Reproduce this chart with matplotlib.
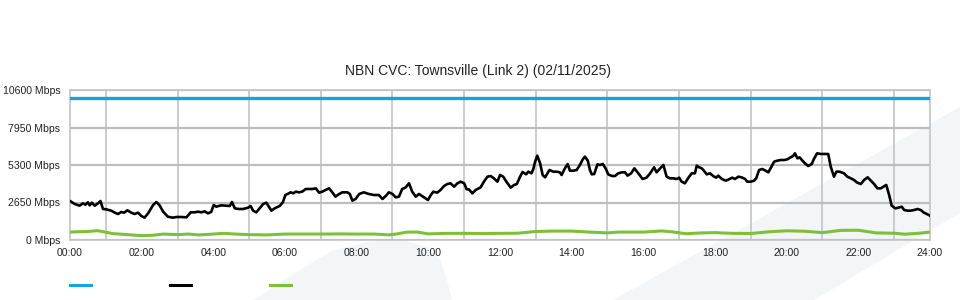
# coding:utf-8
# NBN CVC Townsville link 2 traffic chart

import matplotlib
matplotlib.use("Agg")
import matplotlib.pyplot as plt
from matplotlib.patches import Polygon
from matplotlib.lines import Line2D

plt.rcParams["font.family"] = ["Liberation Sans", "DejaVu Sans"]

title = "NBN CVC: Townsville (Link 2) (02/11/2025)"

# capacity (Mbps)
capacity = 10000

# traffic, time in hours
traffic_hours = [0.0, 0.13, 0.27, 0.36, 0.43, 0.50, 0.55, 0.61, 0.69, 0.78, 0.85, 0.92,
                 1.01, 1.15, 1.25, 1.34, 1.43, 1.51, 1.60, 1.71, 1.80, 1.90, 1.99, 2.08,
                 2.18, 2.32, 2.41, 2.50, 2.60, 2.73, 2.87, 2.97, 3.11, 3.25, 3.37, 3.48,
                 3.57, 3.67, 3.76, 3.85, 3.94, 4.01, 4.08, 4.22, 4.36, 4.46, 4.52, 4.60,
                 4.71, 4.83, 4.97, 5.04, 5.11, 5.20, 5.29, 5.39, 5.48, 5.62, 5.71, 5.85,
                 5.94, 6.01, 6.07, 6.16, 6.23, 6.30, 6.39, 6.48, 6.58, 6.67, 6.76, 6.86,
                 6.95, 7.04, 7.13, 7.23, 7.32, 7.41, 7.51, 7.60, 7.74, 7.81, 7.88, 7.97,
                 8.07, 8.20, 8.34, 8.48, 8.62, 8.72, 8.81, 8.90, 9.00, 9.09, 9.18, 9.27,
                 9.37, 9.46, 9.55, 9.65, 9.74, 9.88, 9.99, 10.07, 10.14, 10.25, 10.34, 10.44,
                 10.53, 10.62, 10.72, 10.81, 10.90, 11.00, 11.07, 11.13, 11.23, 11.32, 11.46, 11.55,
                 11.65, 11.74, 11.83, 11.93, 12.00, 12.09, 12.19, 12.30, 12.39, 12.47, 12.56, 12.63,
                 12.73, 12.79, 12.88, 12.93, 12.98, 13.04, 13.12, 13.19, 13.26, 13.38, 13.49, 13.58,
                 13.67, 13.72, 13.81, 13.89, 13.95, 14.05, 14.14, 14.23, 14.31, 14.37, 14.45, 14.51,
                 14.56, 14.63, 14.72, 14.79, 14.87, 14.96, 15.02, 15.12, 15.21, 15.30, 15.40, 15.49,
                 15.56, 15.66, 15.75, 15.86, 15.98, 16.09, 16.19, 16.30, 16.37, 16.47, 16.56, 16.65,
                 16.74, 16.84, 16.93, 17.00, 17.07, 17.16, 17.26, 17.35, 17.44, 17.49, 17.56, 17.63,
                 17.69, 17.77, 17.86, 17.95, 18.03, 18.09, 18.19, 18.30, 18.39, 18.48, 18.56, 18.65,
                 18.74, 18.84, 18.90, 19.00, 19.09, 19.15, 19.23, 19.32, 19.41, 19.49, 19.55, 19.65,
                 19.74, 19.83, 19.93, 20.02, 20.11, 20.18, 20.23, 20.30, 20.36, 20.44, 20.51, 20.60,
                 20.70, 20.76, 20.85, 20.95, 21.04, 21.16, 21.23, 21.32, 21.39, 21.48, 21.60, 21.69,
                 21.79, 21.88, 21.97, 22.07, 22.16, 22.26, 22.35, 22.44, 22.53, 22.63, 22.70, 22.78,
                 22.86, 22.93, 23.03, 23.12, 23.21, 23.28, 23.37, 23.46, 23.56, 23.65, 23.74, 23.83,
                 23.93, 24.0]
traffic = [2756, 2544, 2426, 2591, 2497, 2662, 2450, 2638, 2426, 2591, 2756, 2191,
           2167, 2073, 1932, 1837, 1979, 1932, 2097, 1932, 1837, 1932, 1696, 1578,
           1885, 2473, 2685, 2450, 2002, 1649, 1578, 1625, 1625, 1602, 1955, 1955,
           2002, 1955, 2026, 1885, 1979, 2473, 2356, 2450, 2426, 2403, 2685, 2238,
           2191, 2191, 2285, 2403, 2073, 1955, 2238, 2544, 2638, 2073, 2238, 2403,
           2662, 3180, 3251, 3369, 3298, 3416, 3369, 3416, 3604, 3604, 3604, 3651,
           3345, 3416, 3533, 3651, 3369, 3062, 3251, 3369, 3369, 3251, 2780, 2897,
           3251, 3369, 3251, 3180, 3180, 2897, 3109, 3369, 3251, 3015, 3062, 3604,
           3722, 4005, 3416, 3062, 3251, 3015, 2827, 3180, 3416, 3345, 3533, 3816,
           3957, 4005, 3769, 4005, 4122, 4005, 3581, 3581, 3298, 3533, 3722, 4122,
           4476, 4523, 4358, 4122, 4593, 4476, 4075, 3698, 3887, 3957, 4476, 4805,
           4640, 4829, 4711, 5017, 5536, 5960, 5418, 4593, 4429, 4947, 4829, 4829,
           4782, 4593, 5064, 5371, 4900, 4900, 4947, 5300, 5700, 5889, 5606, 4947,
           4640, 4664, 5347, 5300, 5371, 4994, 4640, 4523, 4523, 4711, 4782, 4782,
           4547, 4711, 5064, 4711, 4311, 4405, 4711, 5135, 4782, 5064, 5300, 4476,
           4358, 4358, 4311, 4405, 4122, 4005, 4405, 4711, 4711, 5253, 5135, 5064,
           4900, 4640, 4711, 4523, 4405, 4547, 4311, 4193, 4287, 4405, 4311, 4476,
           4429, 4311, 4122, 4122, 4193, 4358, 4947, 5017, 4900, 4782, 5064, 5536,
           5606, 5653, 5653, 5700, 5842, 5936, 6125, 5771, 5842, 5606, 5418, 5229,
           5371, 5724, 6125, 6078, 6078, 6078, 5182, 4476, 4829, 4829, 4711, 4476,
           4358, 4240, 4052, 3957, 4240, 4429, 4193, 3957, 3651, 3651, 3769, 3887,
           3180, 2426, 2238, 2285, 2356, 2120, 2073, 2073, 2120, 2191, 2120, 1932,
           1814, 1720]

# upstream traffic, time in hours
upload_hours = [0.0, 0.3, 0.5, 0.75, 0.9, 1.2, 1.5, 1.8, 2.0, 2.3, 2.6, 3.0, 3.3, 3.6,
                4.0, 4.3, 4.6, 5.0, 5.5, 6.0, 6.5, 7.0, 7.5, 8.0, 8.5, 8.9, 9.1, 9.4,
                9.7, 10.0, 10.5, 11.0, 11.5, 12.0, 12.5, 13.0, 13.5, 14.0, 14.5, 15.0,
                15.3, 15.7, 16.0, 16.5, 16.8, 17.2, 17.6, 18.0, 18.5, 19.0, 19.5, 20.0,
                20.5, 21.0, 21.5, 22.0, 22.5, 23.0, 23.3, 23.7, 24.0]
upload = [560, 590, 600, 660, 600, 450, 400, 340, 310, 330, 420, 380, 420, 360,
          420, 470, 420, 380, 360, 420, 420, 420, 430, 420, 420, 360, 420, 560,
          560, 430, 470, 470, 460, 470, 480, 600, 630, 630, 560, 500,
          560, 560, 560, 640, 580, 440, 500, 520, 470, 460, 580, 650,
          620, 520, 680, 690, 500, 480, 410, 480, 560]

y_ticks = [0, 2650, 5300, 7950, 10600]
y_labels = ["%d Mbps" % v for v in y_ticks]
x_ticks = list(range(0, 25, 2))
x_labels = ["%02d:00" % h for h in x_ticks]

blue = "#1ba1e2"
black = "#000000"
green = "#7cc03a"
grid = "#c4c4c4"

fig = plt.figure(figsize = (9.6, 3.0), dpi = 100)

# watermark shapes behind the chart
band = Polygon([(613/960, 0), (1, 193/300), (1, 87/300), (814/960, 0)],
               closed = True, transform = fig.transFigure, facecolor = "#f4f5f7",
               edgecolor = "none", zorder = -1)
leaf = Polygon([(253/960, 0), (300/960, 30/300), (333/960, 50/300), (367/960, 58/300),
                (400/960, 61/300), (427/960, 53/300), (440/960, 40/300), (447/960, 20/300),
                (452/960, 0)],
               closed = True, transform = fig.transFigure, facecolor = "#f4f5f7",
               edgecolor = "none", zorder = -1)
fig.patches.extend([band, leaf])

ax = fig.add_axes([70/960, 60/300, 860/960, 150/300])
ax.set_facecolor("none")
ax.set_zorder(1)

ax.axhline(capacity, color = blue, lw = 2.4, zorder = 3)
ax.plot(traffic_hours, traffic, color = black, lw = 1.9, zorder = 4)
ax.plot(upload_hours, upload, color = green, lw = 2.2, zorder = 3)

ax.set_xlim(0, 24)
ax.set_ylim(0, 10600)
ax.set_xticks(x_ticks)
ax.set_xticklabels(x_labels)
ax.set_xticks(range(25), minor = True)
ax.set_yticks(y_ticks)
ax.set_yticklabels(y_labels)
ax.tick_params(axis = "both", which = "both", length = 0, labelsize = 7.6, colors = "#222222")
ax.tick_params(axis = "x", pad = 6)
ax.tick_params(axis = "y", pad = 7)

ax.grid(True, axis = "x", which = "minor", color = grid, lw = 1.2)
ax.grid(True, axis = "y", which = "major", color = "#bdbdbd", lw = 1.6)
for s in ax.spines.values():
    s.set_color(grid)
    s.set_linewidth(1.2)

fig.text(478/960, 1 - 71/300, title, ha = "center", va = "center", fontsize = 10, color = "#222222")

# legend marks without labels
for x0, c in [(70, blue), (170, black), (270, green)]:
    fig.add_artist(Line2D([x0/960, (x0 + 21)/960], [15/300, 15/300], color = c, lw = 2.2,
                          transform = fig.transFigure))

plt.savefig("out.png", dpi = 100)
plt.close()
